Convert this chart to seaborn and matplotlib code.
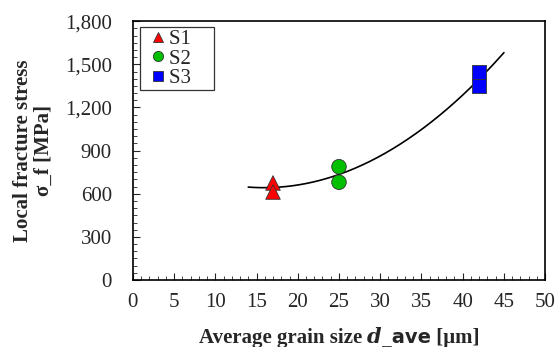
import numpy as np
import pandas as pd
import matplotlib
matplotlib.use("Agg")
import matplotlib.pyplot as plt
import seaborn as sns
from matplotlib.offsetbox import TextArea, HPacker, AnchoredOffsetbox

# ── Data ─────────────────────────────────────────────────────────────────────
samples    = ["S1", "S1", "S2", "S2", "S3", "S3"]
grain_size = [17, 17, 25, 25, 42, 42]
stress     = [675, 612, 788, 680, 1445, 1350]

colors  = {"S1": "#ff0000", "S2": "#00c000", "S3": "#0000ff"}
markers = {"S1": "^", "S2": "o", "S3": "s"}
xticks  = list(range(0, 55, 5))
yticks  = list(range(0, 2100, 300))

df = pd.DataFrame({"sample": samples, "d": grain_size, "sigma": stress})

# quadratic trend line through the points
coef = np.polyfit(df["d"], df["sigma"], 2)
x_fit = np.linspace(14, 45, 200)
y_fit = np.polyval(coef, x_fit)

FS = 15

sns.set_style("white")
plt.rcParams["font.family"] = ["Liberation Serif", "DejaVu Serif"]

fig = plt.figure(figsize=(5.58, 3.47), dpi=100)
ax = fig.add_axes([0.238, 0.193, 0.739, 0.746])

sns.lineplot(x=x_fit, y=y_fit, color="black", lw=1.2, ax=ax, zorder=2)
sns.scatterplot(data=df, x="d", y="sigma", hue="sample", style="sample",
                palette=colors, markers=markers, s=110, edgecolor="#333333",
                linewidth=0.6, ax=ax, zorder=3)

ax.set_xlim(0, 50)
ax.set_ylim(0, 1800)
ax.set_xticks(xticks)
ax.set_yticks(yticks)
ax.set_yticklabels([f"{v:,}" for v in yticks])
ax.set_xticks(np.arange(0, 51, 1), minor=True)
ax.set_yticks(np.arange(0, 1801, 50), minor=True)
ax.tick_params(axis="both", which="both", direction="in", labelsize=FS,
               bottom=True, left=True, top=False, right=False)
ax.tick_params(axis="both", which="major", length=5, width=0.8)
ax.tick_params(axis="y", which="major", pad=15)
ax.tick_params(axis="x", which="major", pad=9)
ax.tick_params(axis="both", which="minor", length=3, width=0.6)
for sp in ax.spines.values():
    sp.set_color("black")
    sp.set_linewidth(1.2)

ax.set_xlabel("")
ax.set_ylabel("Local fracture stress\n\u03c3_f [MPa]", fontsize=FS,
              fontweight="bold", labelpad=8, linespacing=1.05)

# x label with mixed styles
parts = [
    TextArea("Average grain size ", textprops=dict(fontsize=FS, fontweight="bold")),
    TextArea("d", textprops=dict(fontsize=FS, fontweight="bold",
                                 fontstyle="italic", family="DejaVu Serif")),
    TextArea("_ave", textprops=dict(fontsize=FS - 1, fontweight="bold",
                                    family="DejaVu Sans")),
    TextArea(" [\u03bcm]", textprops=dict(fontsize=FS, fontweight="bold")),
]
box = HPacker(children=parts, align="baseline", pad=0, sep=0)
anchored = AnchoredOffsetbox(loc="upper center", child=box, frameon=False,
                             bbox_to_anchor=(0.5, -0.16), bbox_transform=ax.transAxes,
                             borderpad=0)
ax.add_artist(anchored)

handles, labels = ax.get_legend_handles_labels()
leg = ax.legend(handles, [l + "    " for l in labels],
                loc="upper left", bbox_to_anchor=(0.017, 0.976), fontsize=FS,
                frameon=True, fancybox=False, edgecolor="black",
                borderaxespad=0, handletextpad=-0.2, borderpad=0.1,
                labelspacing=0.0, handlelength=1.5, markerscale=0.7)
leg.get_frame().set_linewidth(0.9)

fig.savefig("out.png", dpi=100)
